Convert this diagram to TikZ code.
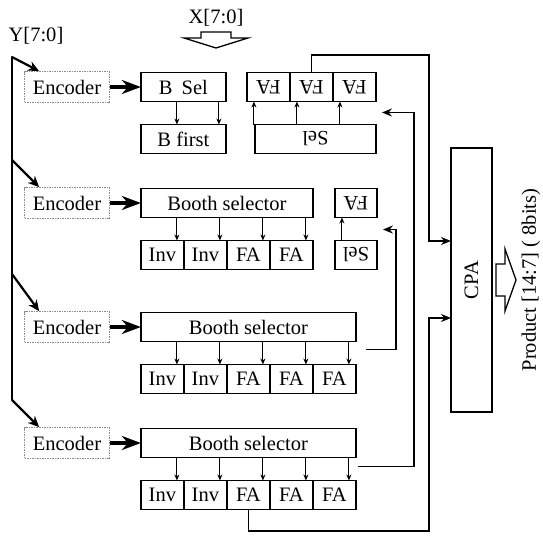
\documentclass[tikz,border=0pt]{standalone}
\usepackage{fontspec}
\setmainfont{Liberation Serif}
\usetikzlibrary{arrows.meta, positioning}
\newcommand{\flip}[1]{\rotatebox[origin=c]{180}{#1}}

\begin{document}
\begin{tikzpicture}[
        x=1pt, y=-1pt,
        font=\fontsize{20.5}{24}\selectfont,
        % Styles
        enc/.style={
            rectangle,
            draw=black!45,
            line width=0.8pt,
            dash pattern=on 1.5pt off 1pt,
            minimum width=85pt,
            minimum height=31pt,
            inner sep=0pt
        },
        block/.style={rectangle, draw, line width=1.3pt, minimum height=29pt, inner sep=0pt, outer sep=0pt},
        cell/.style={block, minimum width=43pt},
        bus/.style={line width=2.6pt, line cap=round},
        busarrow/.style={-{Stealth[length=11pt, width=10pt]}, line width=2.2pt},
        feed/.style={-{Stealth[length=19pt, width=14pt, inset=6pt]}, line width=3.4pt},
        tap/.style={-{Stealth[length=6pt, width=5pt]}, line width=0.9pt},
        link/.style={-{Stealth[length=10pt, width=8pt]}, line width=1.6pt},
        hollow/.style={draw, line width=1.3pt, fill=white}
    ]
    \useasboundingbox (0,0) rectangle (543,538);

    % ==============================
    % 1. INPUTS
    % ==============================
    \node (xlbl) at (216,18) {X[7:0]};
    \node (ylbl) at (36,36) {Y[7:0]};
    \draw[hollow] (201,32) -- (231,32) -- (231,38) -- (248,38) -- (216,48) -- (184,38) -- (201,38) -- cycle;

    % ==============================
    % 2. ENCODERS
    % ==============================
    \node[enc] (enc1) at (67,87) {Encoder};
    \node[enc] (enc2) at (67,203) {Encoder};
    \node[enc] (enc3) at (67,327) {Encoder};
    \node[enc] (enc4) at (67,443) {Encoder};

    \coordinate (y1) at (12,57);
    \coordinate (y2) at (12,160);
    \coordinate (y3) at (12,274);
    \coordinate (y4) at (12,400);
    \draw[bus] (y1) -- (y4);
    \draw[busarrow] (y1) -- ([xshift=15pt]enc1.north west);
    \draw[busarrow] (y2) -- ([xshift=15pt]enc2.north west);
    \draw[busarrow] (y3) -- ([xshift=15pt]enc3.north west);
    \draw[busarrow] (y4) -- ([xshift=15pt]enc4.north west);

    % ==============================
    % 3. SELECTORS
    % ==============================
    \node[block, minimum width=85pt, right=31pt of enc1] (sel1) {B\hspace{0.45em}Sel};
    \node[block, minimum width=172pt, right=31pt of enc2] (sel2) {Booth selector};
    \node[block, minimum width=215pt, right=31pt of enc3] (sel3) {Booth selector};
    \node[block, minimum width=215pt, right=31pt of enc4] (sel4) {Booth selector};

    \draw[feed] (enc1) -- (sel1);
    \draw[feed] (enc2) -- (sel2);
    \draw[feed] (enc3) -- (sel3);
    \draw[feed] (enc4) -- (sel4);

    % ==============================
    % 4. PARTIAL PRODUCT ROWS
    % ==============================
    \node[block, minimum width=85pt, below right=23pt and 0pt of sel1.south west] (bfirst) {B first};

    \node[cell, below right=23pt and 0pt of sel2.south west] (r2a) {Inv};
    \node[cell, right=0pt of r2a] (r2b) {Inv};
    \node[cell, right=0pt of r2b] (r2c) {FA};
    \node[cell, right=0pt of r2c] (r2d) {FA};

    \node[cell, below right=23pt and 0pt of sel3.south west] (r3a) {Inv};
    \node[cell, right=0pt of r3a] (r3b) {Inv};
    \node[cell, right=0pt of r3b] (r3c) {FA};
    \node[cell, right=0pt of r3c] (r3d) {FA};
    \node[cell, right=0pt of r3d] (r3e) {FA};

    \node[cell, below right=23pt and 0pt of sel4.south west] (r4a) {Inv};
    \node[cell, right=0pt of r4a] (r4b) {Inv};
    \node[cell, right=0pt of r4b] (r4c) {FA};
    \node[cell, right=0pt of r4c] (r4d) {FA};
    \node[cell, right=0pt of r4d] (r4e) {FA};

    \draw[tap] ([xshift=36pt]sel1.south west) -- ([xshift=36pt]bfirst.north west);
    \draw[tap] ([xshift=-7pt]sel1.south east) -- ([xshift=-7pt]bfirst.north east);

    \draw[tap] ([xshift=-7pt]r2a.north east |- sel2.south) -- ([xshift=-7pt]r2a.north east);
    \draw[tap] ([xshift=-7pt]r2b.north east |- sel2.south) -- ([xshift=-7pt]r2b.north east);
    \draw[tap] ([xshift=-7pt]r2c.north east |- sel2.south) -- ([xshift=-7pt]r2c.north east);
    \draw[tap] ([xshift=-7pt]r2d.north east |- sel2.south) -- ([xshift=-7pt]r2d.north east);

    \draw[tap] ([xshift=-7pt]r3a.north east |- sel3.south) -- ([xshift=-7pt]r3a.north east);
    \draw[tap] ([xshift=-7pt]r3b.north east |- sel3.south) -- ([xshift=-7pt]r3b.north east);
    \draw[tap] ([xshift=-7pt]r3c.north east |- sel3.south) -- ([xshift=-7pt]r3c.north east);
    \draw[tap] ([xshift=-7pt]r3d.north east |- sel3.south) -- ([xshift=-7pt]r3d.north east);
    \draw[tap] ([xshift=-7pt]r3e.north east |- sel3.south) -- ([xshift=-7pt]r3e.north east);

    \draw[tap] ([xshift=-7pt]r4a.north east |- sel4.south) -- ([xshift=-7pt]r4a.north east);
    \draw[tap] ([xshift=-7pt]r4b.north east |- sel4.south) -- ([xshift=-7pt]r4b.north east);
    \draw[tap] ([xshift=-7pt]r4c.north east |- sel4.south) -- ([xshift=-7pt]r4c.north east);
    \draw[tap] ([xshift=-7pt]r4d.north east |- sel4.south) -- ([xshift=-7pt]r4d.north east);
    \draw[tap] ([xshift=-7pt]r4e.north east |- sel4.south) -- ([xshift=-7pt]r4e.north east);

    % ==============================
    % 5. FLIPPED CELLS
    % ==============================
    \node[cell, right=21pt of sel1] (tfa) {\flip{FA}};
    \node[cell, right=0pt of tfa] (tfb) {\flip{FA}};
    \node[cell, right=0pt of tfb] (tfc) {\flip{FA}};
    \node[block, minimum width=121pt, below left=23pt and 0pt of tfc.south east] (tsel) {\flip{Sel}};

    \draw[tap] ([xshift=7pt]tfa.south west |- tsel.north) -- ([xshift=7pt]tfa.south west);
    \draw[tap] ([xshift=7pt]tfb.south west |- tsel.north) -- ([xshift=7pt]tfb.south west);
    \draw[tap] ([xshift=7pt]tfc.south west |- tsel.north) -- ([xshift=7pt]tfc.south west);

    \node[block, minimum width=42pt, right=22pt of sel2] (sfa) {\flip{FA}};
    \node[block, minimum width=42pt, below=23pt of sfa] (ssel) {\flip{Sel}};

    \draw[tap] ([xshift=7pt]ssel.north west) -- ([xshift=7pt]sfa.south west);

    % ==============================
    % 6. CPA AND OUTPUT
    % ==============================
    \node[block, minimum width=41pt, minimum height=264pt] (cpa) at (471.5,280) {\rotatebox{90}{CPA}};
    \node[rotate=90] (prod) at (531,280) {Product [14:7] ( 8bits)};
    \draw[hollow] (496,264) -- (505,264) -- (505,249) -- (516,280) -- (505,311) -- (505,296) -- (496,296) -- cycle;

    % ==============================
    % 7. CARRY LINKS
    % ==============================
    \coordinate (c3out) at ([xshift=10pt, yshift=-8pt]sel3.south east);
    \coordinate (c3tip) at ([xshift=6pt, yshift=-12pt]sfa.south east);
    \draw[link] (c3out) -- ++(30,0) |- (c3tip);

    \coordinate (c4out) at ([xshift=2pt, yshift=-9pt]sel4.south east);
    \coordinate (c4tip) at ([xshift=6pt, yshift=-11pt]tfc.south east);
    \draw[link] (c4out) -- ++(56,0) |- (c4tip);

    \coordinate (topturn) at (429,55);
    \coordinate (botturn) at (429,531);
    \draw[link] (tfb.north) |- (topturn) |- ([yshift=39pt]cpa.west);
    \draw[link] (r4c.south) |- (botturn) |- ([yshift=-38pt]cpa.west);

    \end{tikzpicture}
\end{document}
